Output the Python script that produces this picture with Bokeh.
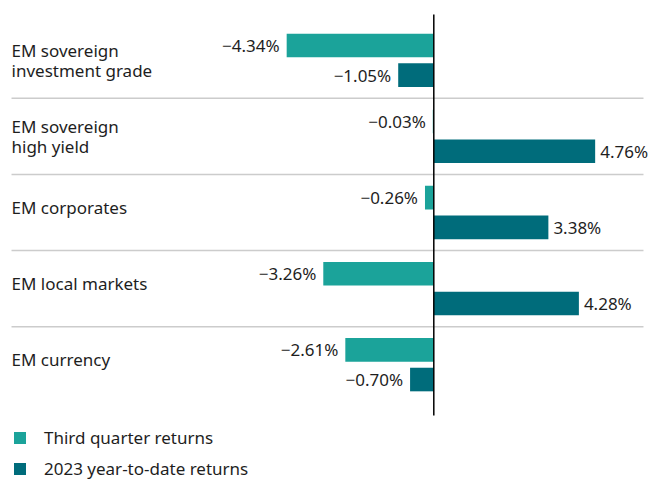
from bokeh.plotting import figure
from bokeh.models import ColumnDataSource, Range1d, Legend, LegendItem
from bokeh.core.properties import value
from bokeh.embed import file_html
from bokeh.resources import INLINE

# ---- data ----
categories = [
    "EM sovereign\ninvestment grade",
    "EM sovereign\nhigh yield",
    "EM corporates",
    "EM local markets",
    "EM currency",
]
q3_returns = [-4.34, -0.03, -0.26, -3.26, -2.61]
ytd_returns = [-1.05, 4.76, 3.38, 4.28, -0.70]
series_names = ["Third quarter returns", "2023 year-to-date returns"]
series_colors = ["#1BA39A", "#006C7B"]

# ---- layout constants ----
FONT = "Noto Sans"
FS = "17px"
TXT = "#1e1e1e"
BAR_H = 0.31
OFF = 0.195
X_LEFT = -12.457    # left end of separators / label anchor
X_RIGHT = 6.186     # right end of separators

n = len(categories)
idx = list(range(n))

p = figure(
    width=649, height=481,
    output_backend="svg", toolbar_location=None,
    x_axis_location=None, y_axis_location=None,
    x_range=Range1d(-12.782, 6.363),
    y_range=Range1d(5.535, -0.786),
    min_border_left=0, min_border_right=0, min_border_top=0, min_border_bottom=0,
)
p.grid.visible = False
p.outline_line_color = None
p.background_fill_color = "white"
p.border_fill_color = "white"

# separators
sep_y = [i + 0.5 for i in range(n - 1)]
p.segment(x0=X_LEFT, x1=X_RIGHT, y0=sep_y, y1=sep_y, line_color="#cccccc", line_width=1.5)

renderers = []
for k, (vals, col) in enumerate(zip([q3_returns, ytd_returns], series_colors)):
    ys = [i + (-OFF if k == 0 else OFF) for i in idx]
    src = ColumnDataSource(dict(
        y=ys, v=vals,
        lab=[("\u2212" if v < 0 else "") + f"{abs(v):.2f}%" for v in vals],
        align=["right" if v < 0 else "left" for v in vals],
        xo=[-7 if v < 0 else 5 for v in vals],
    ))
    r = p.hbar(y="y", left=0, right="v", height=BAR_H, source=src,
               fill_color=col, line_color=None)
    renderers.append(r)
    p.text(x="v", y="y", text="lab", source=src, text_align="align",
           x_offset="xo", text_baseline="middle", text_font=value(FONT),
           text_font_size=FS, text_color=TXT)

# zero line
p.segment(x0=0, x1=0, y0=-0.602, y1=n - 0.332, line_color="black", line_width=1.5)

# category labels
csrc = ColumnDataSource(dict(
    x=[X_LEFT] * n, y=idx, t=categories,
    yo=[0 if "\n" in c else -5 for c in categories],
))
p.text(x="x", y="y", text="t", source=csrc, text_align="left",
       text_baseline="middle", y_offset="yo", text_font=value(FONT),
       text_font_size=FS, text_color=TXT, text_line_height=0.87)

legend = Legend(
    items=[LegendItem(label=nm, renderers=[r]) for nm, r in zip(series_names, renderers)],
    location=(12, 1), orientation="vertical",
    glyph_width=15, glyph_height=15, label_standoff=17, spacing=8,
    padding=0, margin=0, border_line_color=None, background_fill_alpha=0,
    label_text_font=FONT, label_text_font_size=FS, label_text_color=TXT,
    label_height=15,
)
p.add_layout(legend, "center")

open("out.html", "w").write(file_html(p, INLINE))
